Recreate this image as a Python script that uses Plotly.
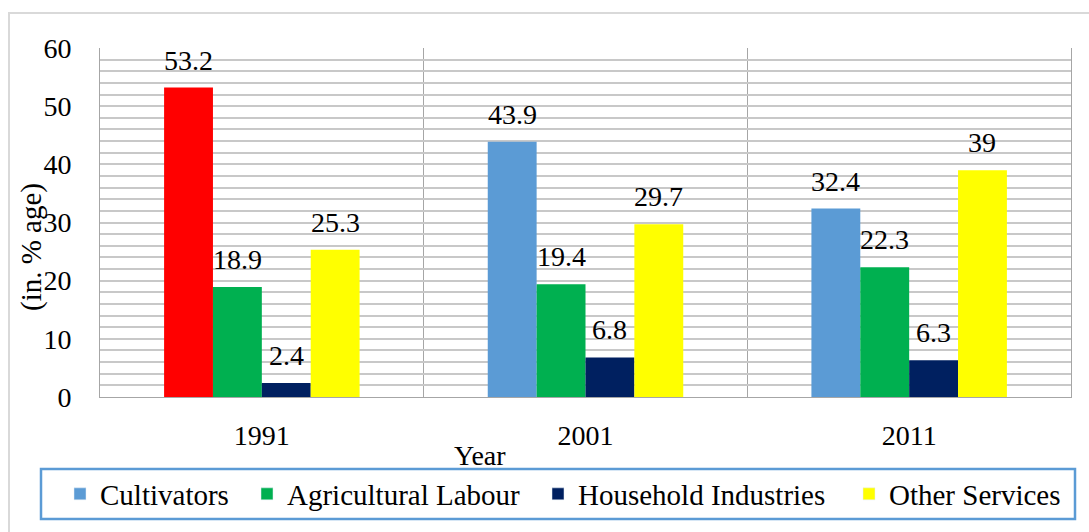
import plotly.graph_objects as go

# Share of workers by category (in % age)
years = ["1991", "2001", "2011"]
series = ["Cultivators", "Agricultural Labour", "Household Industries", "Other Services"]
cultivators = [53.2, 43.9, 32.4]
agricultural_labour = [18.9, 19.4, 22.3]
household_industries = [2.4, 6.8, 6.3]
other_services = [25.3, 29.7, 39]

values = [cultivators, agricultural_labour, household_industries, other_services]
colors = ["#5B9BD5", "#00B050", "#002060", "#FFFF00"]
# the 1991 cultivators bar is highlighted in red
cultivator_colors = ["#FF0000", "#5B9BD5", "#5B9BD5"]
legend_widths = [142, 246, 266, None]

FONT = "Liberation Serif"
W, H = 1089, 532
L, R, T, B = 100, 18, 48, 135
plot_w = W - L - R
plot_h = H - T - B


def px_x(px):
    return (px - L) / plot_w


def px_y(py):
    return (H - B - py) / plot_h


bar_w = 0.151
fig = go.Figure()
annotations = []
for j, (name, vals, col) in enumerate(zip(series, values, colors)):
    xs = [i + (j - 1.5) * bar_w for i in range(len(years))]
    marker_color = cultivator_colors if j == 0 else col
    fig.add_trace(go.Bar(
        x=xs, y=vals, width=bar_w, name=name, showlegend=False,
        marker=dict(color=marker_color, line=dict(width=0)),
        hoverinfo="skip",
    ))
    for x, v in zip(xs, vals):
        annotations.append(dict(
            x=x, y=v, xref="x", yref="y", text=f"{v:g}", showarrow=False,
            yanchor="bottom", yshift=10, font=dict(family=FONT, size=28, color="#000"),
        ))

# legend entries carry the series colour
for j, (name, col) in enumerate(zip(series, colors)):
    entry = dict(x=[None], y=[None], name=name, marker=dict(color=col), hoverinfo="skip")
    if legend_widths[j]:
        entry["legendwidth"] = legend_widths[j]
    fig.add_trace(go.Bar(**entry))

# axis titles
annotations.append(dict(
    x=px_x(480), y=px_y(455), xref="paper", yref="paper", text="Year",
    showarrow=False, yanchor="middle", xanchor="center",
    font=dict(family=FONT, size=28, color="#000"),
))
annotations.append(dict(
    x=px_x(31), y=px_y(247), xref="paper", yref="paper", text="(in. % age)",
    showarrow=False, textangle=-90, yanchor="middle", xanchor="center",
    font=dict(family=FONT, size=29, color="#000"),
))

shapes = [
    # outer chart frame
    dict(type="rect", xref="paper", yref="paper",
         x0=px_x(9), x1=px_x(1100), y0=px_y(545), y1=px_y(13),
         line=dict(color="#d9d9d9", width=2), layer="below"),
    # legend frame
    dict(type="rect", xref="paper", yref="paper",
         x0=px_x(41), x1=px_x(1075), y0=px_y(519), y1=px_y(469),
         line=dict(color="#5B9BD5", width=2.5)),
]

fig.update_layout(
    width=W, height=H,
    margin=dict(l=L, r=R, t=T, b=B),
    paper_bgcolor="white", plot_bgcolor="white",
    barmode="overlay",
    showlegend=True,
    legend=dict(
        orientation="h", x=px_x(60), y=px_y(494), xanchor="left", yanchor="middle",
        font=dict(family=FONT, size=29, color="#000"),
        bgcolor="rgba(0,0,0,0)", borderwidth=0,
    ),
    annotations=annotations,
    shapes=shapes,
    font=dict(family=FONT, color="#000"),
)

fig.update_xaxes(
    range=[-0.5, 2.5], tickmode="array", tickvals=list(range(len(years))), ticktext=years,
    showgrid=False, zeroline=False,
    showline=True, linecolor="#a6a6a6", linewidth=1,
    ticks="", ticklabelstandoff=13,
    tickfont=dict(family=FONT, size=28, color="#000"),
    minor=dict(tickmode="linear", tick0=-0.5, dtick=1, showgrid=True,
               gridcolor="#a6a6a6", gridwidth=1, ticks=""),
    fixedrange=True,
)
fig.update_yaxes(
    range=[0, 60], dtick=10, tick0=0,
    showgrid=True, gridcolor="#c8c8c8", gridwidth=1.5, zeroline=False,
    showline=True, mirror=True, linecolor="#a6a6a6", linewidth=1,
    ticks="", ticklabelstandoff=22,
    tickfont=dict(family=FONT, size=28, color="#000"),
    minor=dict(dtick=2, showgrid=True, gridcolor="#c8c8c8", gridwidth=1.5),
    fixedrange=True,
)

fig.write_html("out.html", config={"displayModeBar": False})
